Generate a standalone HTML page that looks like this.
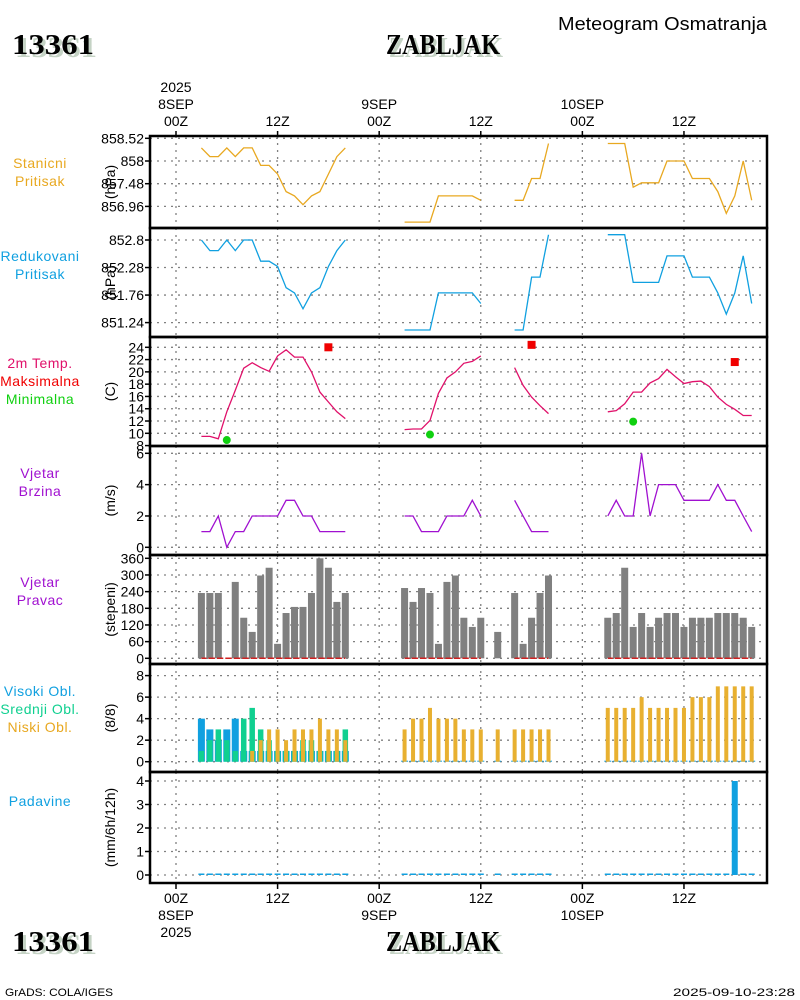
<!DOCTYPE html>
<html><head><meta charset="utf-8"><title>Meteogram ZABLJAK</title>
<style>
html,body{margin:0;padding:0;background:#fff;}
svg{display:block;}
text{font-family:"Liberation Sans",sans-serif;}
.t{font-size:14px;fill:#000;}
.big{font-family:"Liberation Serif",serif;font-weight:bold;font-size:29px;}
</style></head>
<body>
<svg id="chart" width="800" height="1000" viewBox="0 0 800 1000" xmlns="http://www.w3.org/2000/svg">
<rect x="0" y="0" width="800" height="1000" fill="#fff"/>
<text x="558" y="30" class="t" style="font-size:18px" textLength="209" lengthAdjust="spacingAndGlyphs">Meteogram Osmatranja</text>
<text x="15" y="57" class="big" fill="#c5d3c5" textLength="82" lengthAdjust="spacingAndGlyphs">13361</text>
<text x="12" y="54" class="big" fill="#000" textLength="82" lengthAdjust="spacingAndGlyphs">13361</text>
<text x="389" y="57" class="big" fill="#c5d3c5" textLength="114" lengthAdjust="spacingAndGlyphs">ZABLJAK</text>
<text x="386" y="54" class="big" fill="#000" textLength="114" lengthAdjust="spacingAndGlyphs">ZABLJAK</text>
<text x="15" y="954" class="big" fill="#c5d3c5" textLength="82" lengthAdjust="spacingAndGlyphs">13361</text>
<text x="12" y="951" class="big" fill="#000" textLength="82" lengthAdjust="spacingAndGlyphs">13361</text>
<text x="389" y="954" class="big" fill="#c5d3c5" textLength="114" lengthAdjust="spacingAndGlyphs">ZABLJAK</text>
<text x="386" y="951" class="big" fill="#000" textLength="114" lengthAdjust="spacingAndGlyphs">ZABLJAK</text>
<text x="5" y="996" style="font-size:11px" textLength="108" lengthAdjust="spacingAndGlyphs">GrADS: COLA/IGES</text>
<text x="673" y="996" style="font-size:11px" textLength="122" lengthAdjust="spacingAndGlyphs">2025-09-10-23:28</text>
<g id="plots"></g>
</svg>
<script>
// hours since 2025-09-08 00Z, hourly 3..68
const startHour = 3;
const N = null;
const stationPressure = [858.3,858.1,858.1,858.3,858.1,858.3,858.3,857.9,857.9,857.7,857.3,857.2,857.0,857.2,857.3,857.7,858.1,858.3, N,N,N,N,N,N, 856.6,856.6,856.6,856.6,857.2,857.2,857.2,857.2,857.2,857.1, N,N,N, 857.1,857.1,857.6,857.6,858.4, N,N,N,N,N,N, 858.4,858.4,858.4,857.4,857.5,857.5,857.5,858.0,858.0,858.0,857.6,857.6,857.6,857.3,856.8,857.2,858.0,857.1];
const reducedPressure = [852.8,852.6,852.6,852.8,852.6,852.8,852.8,852.4,852.4,852.3,851.9,851.8,851.5,851.8,851.9,852.3,852.6,852.8, N,N,N,N,N,N, 851.1,851.1,851.1,851.1,851.8,851.8,851.8,851.8,851.8,851.6, N,N,N, 851.1,851.1,852.1,852.1,852.9, N,N,N,N,N,N, 852.9,852.9,852.9,852.0,852.0,852.0,852.0,852.5,852.5,852.5,852.1,852.1,852.1,851.8,851.4,851.8,852.5,851.6];
const temperature = [9.5,9.5,9.1,13.5,17.0,20.6,21.5,20.7,20.1,22.6,23.6,22.4,22.4,20.0,16.7,15.1,13.5,12.4, N,N,N,N,N,N, 10.6,10.7,10.7,12.1,16.5,19.0,20.0,21.4,21.7,22.6, N,N,N, 20.7,17.8,15.9,14.5,13.2, N,N,N,N,N,N, 13.5,13.7,14.8,16.7,16.7,18.2,18.9,20.4,19.2,18.1,18.4,18.5,17.6,15.9,14.7,13.9,12.9,12.9];
const maxTempHours = [18, 42, 66];
const maxTempValues = [24.0, 24.4, 21.6];
const minTempHours = [6, 30, 54];
const minTempValues = [8.9, 9.8, 11.9];
const windSpeed = [1,1,2,0,1,1,2,2,2,2,3,3,2,2,1,1,1,1, N,N,N,N,N,N, 2,2,1,1,1,2,2,2,3,2, N,N,N, 3,2,1,1,1, N,N,N,N,N,N, 2,3,2,2,6,2,4,4,4,3,3,3,3,4,3,3,2,1];
const windDir = [235,235,235,0,275,146,95,298,326,52,163,185,185,235,360,326,203,235, N,N,N,N,N,N, 253,203,253,235,52,275,298,146,113,146, N,95,N, 235,52,146,235,298, N,N,N,N,N,N, 146,163,326,113,163,113,146,163,163,113,146,146,146,163,163,163,146,113];
const cloudHigh = [4,3,2,3,4,1,1,1,1,1,1,1,1,1,1,1,1,1, N,N,N,N,N,N, 0,0,0,0,0,0,0,0,0,0, N,0,N, 0,0,0,0,0, N,N,N,N,N,N, 0,0,0,0,0,0,0,0,0,0,0,0,0,0,0,0,0,0];
const cloudMid = [1,2,3,2,1,4,5,3,2,1,1,1,2,2,1,1,1,3, N,N,N,N,N,N, 0,0,0,0,0,0,0,0,0,0, N,0,N, 0,0,0,0,0, N,N,N,N,N,N, 0,0,0,0,0,0,0,0,0,0,0,0,0,0,0,0,0,0];
const cloudLow = [0,0,0,0,0,0,1,2,3,3,2,3,3,3,4,3,3,2, N,N,N,N,N,N, 3,4,4,5,4,4,4,3,3,3, N,3,N, 3,3,3,3,3, N,N,N,N,N,N, 5,5,5,5,6,5,5,5,5,5,6,6,6,7,7,7,7,7];
const precip = [0,0,0,0,0,0,0,0,0,0,0,0,0,0,0,0,0,0, N,N,N,N,N,N, 0,0,0,0,0,0,0,0,0,0, N,0,N, 0,0,0,0,0, N,N,N,N,N,N, 0,0,0,0,0,0,0,0,0,0,0,0,0,0,0,4.0,0,0];
const pres1Ticks = [858.52, 858, 857.48, 856.96];
const pres2Ticks = [852.8, 852.28, 851.76, 851.24];
const tempTicks = [24,22,20,18,16,14,12,10,8];
const speedTicks = [6,4,2,0];
const dirTicks = [360,300,240,180,120,60,0];
const cloudTicks = [8,6,4,2,0];
const precipTicks = [4,3,2,1,0];
const timeTicks = [0,12,24,36,48,60];
const timeTopLabels = [["2025","8SEP","00Z"],["","","12Z"],["","9SEP","00Z"],["","","12Z"],["","10SEP","00Z"],["","","12Z"]];
const timeBottomLabels = [["00Z","8SEP","2025"],["12Z","",""],["00Z","9SEP",""],["12Z","",""],["00Z","10SEP",""],["12Z","",""]];

const NS = "http://www.w3.org/2000/svg";
const g = document.getElementById('plots');
const X0 = 150, X1 = 767;
function xs(h){ return 176 + (h) * 8.466; }
function mk(tag, attrs, parent){ const e = document.createElementNS(NS, tag); for (const k in attrs) e.setAttribute(k, attrs[k]); (parent||g).appendChild(e); return e; }
function lin(v0, y0, v1, y1){ return v => y0 + (v - v0) * (y1 - y0) / (v1 - v0); }

const panels = [
  {top:136,bot:228,ys:lin(858,161,858.52,138.3),ticks:pres1Ticks,labels:[["Stanicni","#e8a820"],["Pritisak","#e8a820"]],labelY:168,unit:"(hPa)",name:"station-pressure"},
  {top:228,bot:337,ys:lin(852.8,240,851.24,322.6),ticks:pres2Ticks,labels:[["Redukovani","#10a0e0"],["Pritisak","#10a0e0"]],labelY:261,unit:"(hPa)",name:"reduced-pressure"},
  {top:337,bot:446,ys:lin(24,347.3,10,433.3),ticks:tempTicks,labels:[["2m Temp.","#e0106a"],["Maksimalna","#f00000"],["Minimalna","#10d010"]],labelY:368,unit:"(C)",name:"temperature"},
  {top:446,bot:555,ys:lin(0,547.3,6,453.3),ticks:speedTicks,labels:[["Vjetar","#a010d0"],["Brzina","#a010d0"]],labelY:478,unit:"(m/s)",name:"wind-speed"},
  {top:555,bot:664,ys:lin(0,658.3,360,558.3),ticks:dirTicks,labels:[["Vjetar","#a010d0"],["Pravac","#a010d0"]],labelY:587,unit:"(stepeni)",name:"wind-direction"},
  {top:664,bot:772,ys:lin(0,761.7,8,675.6),ticks:cloudTicks,labels:[["Visoki Obl.","#10a0e0"],["Srednji Obl.","#10d090"],["Niski Obl.","#e8a820"]],labelY:696,unit:"(8/8)",name:"cloud-cover"},
  {top:772,bot:883,ys:lin(0,875,4,781),ticks:precipTicks,labels:[["Padavine","#10a0e0"]],labelY:806,unit:"(mm/6h/12h)",name:"precipitation"}
];

panels.forEach((p) => {
  p.ticks.forEach(v => {
    const y = p.ys(v);
    if (y > p.top + 1 && y < p.bot - 1) {
      const ln = mk('line',{x1:X0,x2:X1,y1:y,y2:y,stroke:'#808080','stroke-width':1.3,'stroke-dasharray':'2,5'});
      
      
    }
    const tk = mk('line',{x1:X0-5,x2:X0,y1:y,y2:y,stroke:'#000','stroke-width':1.5});
    
    
    const t = mk('text',{x:X0-6,y:y+5,'text-anchor':'end',class:'t'});
    t.textContent = String(v);
    
    
  });
  timeTicks.forEach(h => {
    const x = xs(h);
    const ln = mk('line',{x1:x,x2:x,y1:p.top,y2:p.bot,stroke:'#808080','stroke-width':1.3,'stroke-dasharray':'2,5'});
    
    
  });
  p.labels.forEach((l, i) => {
    const t = mk('text',{x:40,y:p.labelY + i*18,'text-anchor':'middle',fill:l[1],style:'font-size:14px;letter-spacing:0.5px'});
    t.textContent = l[0];
    
    
  });
  const cy = (p.top + p.bot) / 2;
  const u = mk('text',{x:0,y:0,'text-anchor':'middle',class:'t',transform:'translate(115,'+cy+') rotate(-90)'});
  u.textContent = p.unit;
  
  
});

function drawLine(arr, p, color, name){
  let d = '', pen = false;
  arr.forEach((v, i) => {
    if (v === null) { pen = false; return; }
    const x = xs(startHour + i), y = p.ys(v);
    d += (pen ? 'L' : 'M') + x.toFixed(1) + ' ' + y.toFixed(1);
    pen = true;
  });
  const e = mk('path',{d:d,fill:'none',stroke:color,'stroke-width':1.3});
  
  
}
function drawBars(arr, p, color, w, name, minH){
  arr.forEach((v, i) => {
    if (v === null) return;
    const x = xs(startHour + i), y0 = p.ys(0), y = p.ys(v);
    let h = y0 - y;
    if (h < minH) h = minH;
    if (h <= 0) return;
    const r = mk('rect',{x:x - w/2,y:y0 - h,width:w,height:h,fill:color});
    
    
  });
}

drawLine(stationPressure, panels[0], '#e8a820', 'station-pressure-line');
drawLine(reducedPressure, panels[1], '#10a0e0', 'reduced-pressure-line');
drawLine(temperature, panels[2], '#e0106a', 'temperature-line');
maxTempHours.forEach((h, i) => {
  const r = mk('rect',{x:xs(h)-4,y:panels[2].ys(maxTempValues[i])-4,width:8,height:8,fill:'#f00000'});
  
  
});
minTempHours.forEach((h, i) => {
  const c = mk('circle',{cx:xs(h),cy:panels[2].ys(minTempValues[i]),r:4,fill:'#10d010'});
  
  
});
drawLine(windSpeed, panels[3], '#a010d0', 'wind-speed-line');
drawBars(windDir, panels[4], '#808080', 7, 'wind-direction-bar', 0);
(function(){
  const p = panels[4]; let d = '';
  windDir.forEach((v, i) => {
    if (v === null || i === 0 || windDir[i-1] === null) return;
    const y = p.ys(0);
    d += 'M' + xs(startHour+i-1).toFixed(1) + ' ' + y + 'L' + xs(startHour+i).toFixed(1) + ' ' + y;
  });
  const e = mk('path',{d:d,stroke:'#d02020','stroke-width':1.5,'stroke-dasharray':'5,2',fill:'none'});
  
  
})();
drawBars(cloudHigh, panels[5], '#10a0e0', 7, 'cloud-high-bar', 1);
drawBars(cloudMid, panels[5], '#10d090', 5.5, 'cloud-mid-bar', 0);
drawBars(cloudLow, panels[5], '#e8b030', 4, 'cloud-low-bar', 0);
drawBars(precip, panels[6], '#10a0e0', 6, 'precip-bar', 1.5);

panels.forEach(p => {
  const r = mk('rect',{x:X0,y:p.top,width:X1-X0,height:p.bot-p.top,fill:'none',stroke:'#000','stroke-width':2.5});
  
  
});
timeTicks.forEach((h, i) => {
  const x = xs(h);
  const t1 = mk('line',{x1:x,x2:x,y1:131,y2:136,stroke:'#000','stroke-width':1.5});
  
  
  const t2 = mk('line',{x1:x,x2:x,y1:883,y2:889,stroke:'#000','stroke-width':1.5});
  
  
  timeTopLabels[i].forEach((s, j) => {
    if (!s) return;
    const t = mk('text',{x:x,y:92 + j*17,'text-anchor':'middle',class:'t'});
    t.textContent = s;
    
    
  });
  timeBottomLabels[i].forEach((s, j) => {
    if (!s) return;
    const t = mk('text',{x:x,y:903 + j*17,'text-anchor':'middle',class:'t'});
    t.textContent = s;
    
    
  });
});
</script>
</body></html>
